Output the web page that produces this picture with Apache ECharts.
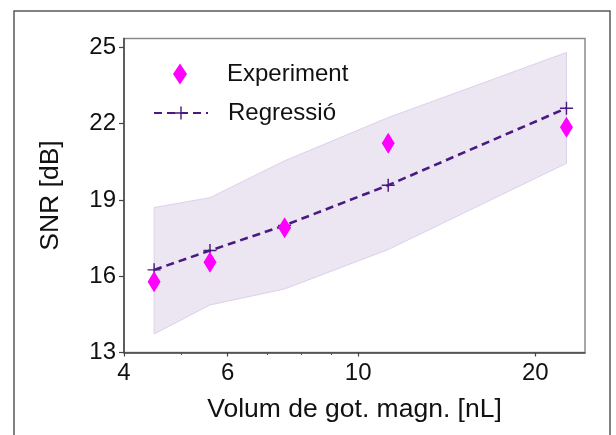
<!DOCTYPE html>
<html>
<head>
<meta charset="utf-8">
<script src="https://cdn.jsdelivr.net/npm/echarts@6/dist/echarts.min.js"></script>
<style>
html,body{margin:0;padding:0;background:#fff;}
#c{width:616px;height:435px;}
</style>
</head>
<body>
<div id="c"></div>
<script>
// ---- data ----
var xVals = [4.5, 5.6, 7.5, 11.25, 22.6];            // Volum de got. magn. [nL]
var expY = [15.78, 16.55, 17.91, 21.23, 21.86];       // Experiment SNR [dB]
var regY = [16.25, 17.01, 18.0, 19.58, 22.61];        // Regressió SNR [dB]
var bandUpper = [18.70, 19.09, 20.54, 22.24, 24.80];  // band upper
var bandLower = [13.73, 14.87, 15.50, 17.05, 20.44];  // band lower
var xTicks = [4, 6, 10, 20];
var xMinorTicks = [5, 7, 8, 9];
var yTicks = [13, 16, 19, 22, 25];

var FONT = '"Liberation Sans", Arial, Helvetica, sans-serif';
var chart = echarts.init(document.getElementById('c'), null, {renderer: 'canvas'});

function pairs(xs, ys) { return xs.map(function (x, i) { return [x, ys[i]]; }); }

var plusPath = 'path://M0,4.45 H10 V5.55 H0 Z M4.45,0 H5.55 V10 H4.45 Z';

var option = {
  backgroundColor: '#fff',
  animation: false,
  graphic: [{
    type: 'rect', silent: true, z: 100,
    shape: {x: 14, y: 11, width: 596, height: 440},
    style: {fill: 'none', stroke: '#5a5a5a', lineWidth: 1.5}
  }],
  grid: {left: 124, top: 38.5, right: 31, bottom: 82.5, show: true, borderColor: '#8a8a8a', borderWidth: 1.5, containLabel: false},
  legend: [{
    data: ['Experiment'], left: 168, top: 57, orient: 'vertical',
    itemWidth: 14, itemHeight: 21,
    textStyle: {fontFamily: FONT, fontSize: 24, color: '#111', padding: [0, 0, 0, 35]}
  }, {
    data: ['Regressió'], left: 148, top: 96, orient: 'vertical',
    itemWidth: 54, itemHeight: 16,
    textStyle: {fontFamily: FONT, fontSize: 24, color: '#111', padding: [0, 0, 0, 15]}
  }],
  xAxis: [{
    type: 'log', logBase: 10, min: 4, max: 24.3, position: 'bottom',
    name: 'Volum de got. magn. [nL]', nameLocation: 'middle', nameGap: 44,
    nameTextStyle: {fontFamily: FONT, fontSize: 26.5, color: '#111'},
    axisLine: {show: true, lineStyle: {color: '#444', width: 1.5}},
    axisTick: {show: true, length: 4, inside: false, customValues: xTicks, lineStyle: {color: '#444', width: 1.2}},
    axisLabel: {fontFamily: FONT, fontSize: 24, color: '#111', margin: 9, customValues: xTicks,
      formatter: function (v) { return String(Math.round(v)); }},
    splitLine: {show: false}, minorTick: {show: false}
  }, {
    type: 'log', logBase: 10, min: 4, max: 24.3, position: 'bottom', gridIndex: 0,
    axisLine: {show: false},
    axisTick: {show: true, length: 2.5, customValues: xMinorTicks, lineStyle: {color: '#555', width: 1}},
    axisLabel: {show: false}, splitLine: {show: false}
  }],
  yAxis: {
    type: 'value', min: 13, max: 25.35,
    name: 'SNR [dB]', nameLocation: 'middle', nameGap: 60, nameRotate: 90,
    nameTextStyle: {fontFamily: FONT, fontSize: 26.5, color: '#111'},
    axisLine: {show: true, lineStyle: {color: '#444', width: 1.5}},
    axisTick: {show: true, length: 5, customValues: yTicks, lineStyle: {color: '#444', width: 1.2}},
    axisLabel: {fontFamily: FONT, fontSize: 24, color: '#111', margin: 8, customValues: yTicks},
    splitLine: {show: false}
  },
  series: [{
    name: 'band', type: 'custom', z: 1, silent: true,
    data: [[xVals[0], bandLower[0]]],
    renderItem: function (params, api) {
      var pts = [];
      for (var i = 0; i < xVals.length; i++) pts.push(api.coord([xVals[i], bandUpper[i]]));
      for (var j = xVals.length - 1; j >= 0; j--) pts.push(api.coord([xVals[j], bandLower[j]]));
      return {type: 'polygon', shape: {points: pts},
        style: {fill: '#ece6f3', stroke: '#dcd0ea', lineWidth: 1}};
    }
  }, {
    name: 'Regressió', type: 'line', z: 3,
    data: pairs(xVals, regY),
    symbol: plusPath, symbolSize: 13, showSymbol: true,
    itemStyle: {color: '#4a1a80'},
    lineStyle: {color: '#4a1a80', width: 2.6, type: [8, 5]}
  }, {
    name: 'Experiment', type: 'scatter', z: 5,
    data: pairs(xVals, expY),
    symbol: 'diamond', symbolSize: [13, 21],
    itemStyle: {color: '#ff00ff', opacity: 1}
  }]
};
chart.setOption(option);
</script>
</body>
</html>
